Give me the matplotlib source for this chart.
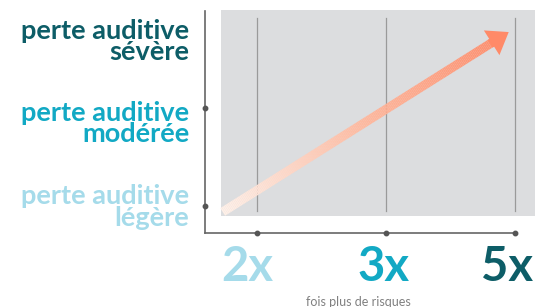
import numpy as np
import matplotlib.pyplot as plt
from matplotlib.collections import LineCollection
from matplotlib.patches import Rectangle, FancyArrowPatch
from matplotlib.colors import LinearSegmentedColormap

# Data
x_labels = ["2x", "3x", "5x"]
x_pos = [0, 1, 2]
y_labels = ["perte auditive\nlégère", "perte auditive\nmodérée", "perte auditive\nsévère"]
y_label_pos = [-0.01, 0.84, 1.68]
y_tick_pos = [0, 1]
label_colors = ["#a5dbea", "#12a9c4", "#0d5d67"]
arrow_start = (-0.27, -0.06)
arrow_end = (1.97, 1.79)
xlabel = "fois plus de risques"

plt.rcParams['font.family'] = ['Lato', 'DejaVu Sans']
fig = plt.figure(figsize=(5.35, 3.07), dpi=100)
ax = fig.add_axes([204.7/535, 74/307, 1 - 204.7/535, (297-74)/307])
ax.set_xlim(-0.41, 2.156)
ax.set_ylim(-0.2755, 2.0)

# gray background panel
ax.add_patch(Rectangle((-0.28, -0.10), 2.156 + 0.28, 2.1, facecolor="#dcdddf",
                       edgecolor="none", zorder=0))
# vertical grid lines
for xp in x_pos:
    ax.plot([xp, xp], [-0.05, 1.92], color="#9a9a9a", lw=0.9, zorder=1)

# gradient arrow shaft
n = 200
xs = np.linspace(arrow_start[0], arrow_end[0], n)
ys = np.linspace(arrow_start[1], arrow_end[1], n)
pts = np.column_stack([xs, ys]).reshape(-1, 1, 2)
segs = np.concatenate([pts[:-1], pts[1:]], axis=1)
cmap = LinearSegmentedColormap.from_list("g", ["#fff0e8", "#ffb79c", "#ff8a68"])
cut = int(n * 0.93)
lc = LineCollection(segs[:cut], colors=cmap(np.linspace(0, 1, n - 1)[:cut]),
                    linewidths=6.5, capstyle="butt", zorder=3)
ax.add_collection(lc)
head = FancyArrowPatch((xs[cut - 3], ys[cut - 3]), arrow_end,
                       arrowstyle="simple,head_length=1.0,head_width=1.45,tail_width=0.45",
                       mutation_scale=14.5, color="#ff8a68", lw=0, zorder=4)
ax.add_patch(head)

# spines
for s in ["top", "right"]:
    ax.spines[s].set_visible(False)
ax.spines["left"].set_bounds(-0.2755, 1.99)
ax.spines["bottom"].set_bounds(-0.41, 2.02)
for s in ["left", "bottom"]:
    ax.spines[s].set_color("#666666")
    ax.spines[s].set_linewidth(1.2)
ax.set_xticks([])
ax.set_yticks([])

# tick dots
ax.plot(x_pos, [-0.2755] * 3, "o", color="#555555", ms=3.2, clip_on=False, zorder=5)
ax.plot([-0.41] * 2, y_tick_pos, "o", color="#555555", ms=3.2, clip_on=False, zorder=5)

# y labels
for yp, lab, c in zip(y_label_pos, y_labels, label_colors):
    ax.text(-0.53, yp, lab, color=c, fontsize=19.5, fontweight="bold",
            ha="right", va="center", linespacing=0.86,
            transform=ax.transData, clip_on=False)

# x labels
x_off = [-0.08, -0.02, -0.06]
for xp, lab, c, o in zip(x_pos, x_labels, label_colors, x_off):
    ax.text(xp + o, -0.62, lab, color=c, fontsize=34, fontweight="bold",
            ha="center", va="center", clip_on=False)

fig.text(358/535, 1 - 302/307, xlabel, color="#808080", fontsize=9,
         fontweight="normal", ha="center", va="center")

fig.savefig("out.png", dpi=100)
